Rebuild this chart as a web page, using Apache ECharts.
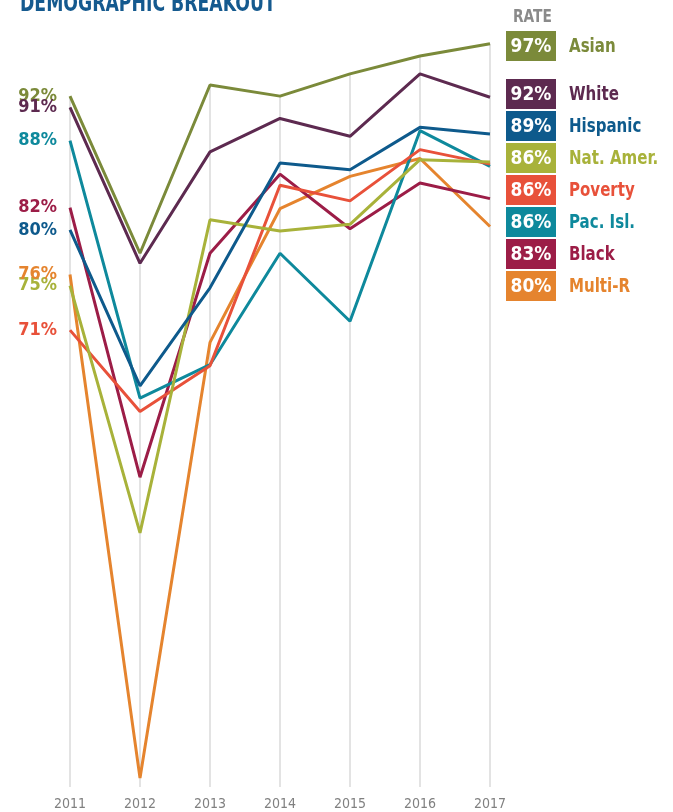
<!DOCTYPE html>
<html lang="en" style="background: #FFFFFF;height: 100%">

<head>
    <meta charset="utf-8" />
    <title>Demographic breakout</title>
    <script type="text/javascript" src="https://cdn.jsdelivr.net/npm/echarts@6/dist/echarts.min.js"></script>
</head>

<body style="margin: 0;height: 100%">
    <div id="chart" style="width:673px;height:812px"></div>
    <script>
    let years = ['2011', '2012', '2013', '2014', '2015', '2016', '2017']
    let names = ['Asian', 'White', 'Hispanic', 'Nat. Amer.', 'Poverty', 'Pac. Isl.', 'Black', 'Multi-R']
    let colors = ['#7b8a3a', '#5d2a50', '#0e5a8c', '#a8b23a', '#e8513a', '#0e899c', '#9c1d47', '#e5842e']

    let asian = [92, 77.9, 93.0, 92.0, 94.0, 95.6, 96.7]
    let white = [91, 77.0, 87.0, 90.0, 88.4, 94.0, 91.9]
    let hispanic = [80, 66.0, 74.8, 86.0, 85.4, 89.2, 88.6]
    let natAmer = [75, 52.8, 80.9, 79.9, 80.5, 86.3, 86.1]
    let poverty = [71, 63.7, 67.8, 84.0, 82.6, 87.2, 85.9]
    let pacIsl = [88, 64.9, 67.9, 77.9, 71.8, 88.9, 85.7]
    let black = [82, 57.8, 77.9, 85.0, 80.1, 84.2, 82.8]
    let multiR = [76, 30.8, 69.9, 81.9, 84.8, 86.4, 80.3]

    let allData = [asian, white, hispanic, natAmer, poverty, pacIsl, black, multiR]

    let font = '"DejaVu Sans Condensed", "Liberation Sans Narrow", sans-serif'
    let chart = echarts.init(document.getElementById('chart'))

    // vertical guide lines only go up to the top line of each year
    let topPerYear = years.map((y, i) => Math.max(...allData.map(d => d[i])))

    let series = [{
        type: 'bar',
        data: topPerYear,
        barWidth: 1.5,
        silent: true,
        z: 1,
        itemStyle: { color: '#dadada' }
    }]

    allData.forEach((d, k) => {
        series.push({
            name: names[k],
            type: 'line',
            data: d,
            symbol: 'none',
            z: 10 - k,
            lineStyle: { width: 3, color: colors[k] },
            markPoint: {
                symbol: 'circle',
                symbolSize: 0,
                data: [{ coord: [0, d[0]], value: d[0] }],
                label: {
                    show: true,
                    position: 'left',
                    distance: 13,
                    formatter: d[0] + '%',
                    color: colors[k],
                    fontFamily: font,
                    fontWeight: 'bold',
                    fontSize: 18
                }
            }
        })
    })

    // title and legend boxes on the right
    let graphic = [{
        type: 'text',
        x: 20,
        y: -7,
        scaleX: 0.8,
        style: {
            text: 'DEMOGRAPHIC BREAKOUT',
            fill: '#155a8f',
            font: 'bold 24px ' + font
        }
    }, {
        type: 'text',
        x: 513,
        y: 9,
        scaleX: 0.9,
        style: {
            text: 'RATE',
            fill: '#8a8a8a',
            font: 'bold 17px ' + font
        }
    }]

    names.forEach((n, k) => {
        let top = k == 0 ? 31 : 47 + k * 32
        let last = allData[k][allData[k].length - 1]
        graphic.push({
            type: 'rect',
            shape: { x: 506, y: top, width: 50, height: 30 },
            style: { fill: colors[k] }
        })
        graphic.push({
            type: 'text',
            x: 531,
            y: top + 16,
            style: {
                text: Math.round(last) + '%',
                fill: '#fff',
                font: 'bold 19px ' + font,
                align: 'center',
                verticalAlign: 'middle'
            }
        })
        graphic.push({
            type: 'text',
            x: 569,
            y: top + 16,
            scaleX: 0.88,
            style: {
                text: n,
                fill: colors[k],
                font: 'bold 19px ' + font,
                verticalAlign: 'middle'
            }
        })
    })

    chart.setOption({
        animation: false,
        grid: { left: 70, right: 183, top: 7, bottom: 25 },
        xAxis: {
            type: 'category',
            data: years,
            boundaryGap: false,
            axisLine: { show: false },
            axisTick: { show: false },
            axisLabel: { color: '#808080', fontFamily: font, fontSize: 14, margin: 10 },
            splitLine: { show: false }
        },
        yAxis: {
            type: 'value',
            min: 30,
            max: 100,
            show: false
        },
        series: series,
        graphic: graphic
    })
    </script>
</body>

</html>
